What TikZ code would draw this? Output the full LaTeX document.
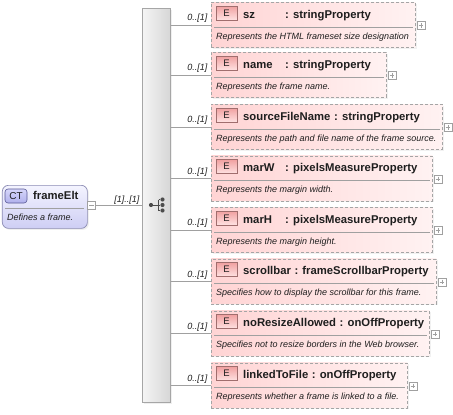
\documentclass[tikz,border=0pt]{standalone}
\usepackage{fontspec}
\setmainfont{Liberation Sans}
\usetikzlibrary{shadows,calc}
\definecolor{pinkL}{RGB}{255,212,212}
\definecolor{pinkR}{RGB}{255,242,242}
\definecolor{ebadgeA}{RGB}{240,160,160}
\definecolor{ebadgeB}{RGB}{255,226,226}
\definecolor{ebadgeD}{RGB}{160,110,110}
\definecolor{ctA}{RGB}{244,244,255}
\definecolor{ctB}{RGB}{206,206,244}
\definecolor{ctD}{RGB}{140,140,180}
\definecolor{ctbA}{RGB}{214,214,250}
\definecolor{ctbB}{RGB}{176,176,236}
\definecolor{ctbD}{RGB}{90,90,150}
\definecolor{lineC}{RGB}{160,160,160}
\definecolor{dashC}{RGB}{165,165,165}
\definecolor{txt}{RGB}{30,30,30}
\tikzset{
  elem/.style={draw=dashC, dash pattern=on 3pt off 2pt, left color=pinkL, right color=pinkR,
    anchor=north west, inner sep=0pt, minimum height=45pt, line width=0.8pt,
    drop shadow={shadow xshift=1.2pt, shadow yshift=-1.2pt, fill=black!10}},
  ebadge/.style={draw=ebadgeD, top color=ebadgeA, bottom color=ebadgeB, minimum width=21pt,
    minimum height=14pt, inner sep=0pt, font=\fontsize{9.5}{10}\selectfont, text=txt, line width=0.6pt},
  etitle/.style={inner sep=0pt, font=\fontsize{11.3}{12}\selectfont\bfseries, text=txt},
  edesc/.style={inner sep=0pt, font=\fontsize{9}{10}\selectfont\itshape, text=txt},
  card/.style={inner sep=0pt, font=\fontsize{9}{10}\selectfont\itshape, text=txt},
  sepline/.style={draw=lineC, line width=0.6pt},
  conn/.style={draw=lineC, line width=0.7pt},
  pm/.style={draw=lineC, fill=white, minimum width=8pt, minimum height=8pt, inner sep=0pt, line width=0.5pt},
  pmsign/.style={draw=lineC, line width=0.6pt},
  seqdot/.style={circle, fill=black!70, inner sep=0pt, minimum size=4.2pt},
}
\newcommand\elemE[7]{%
  \node[elem, minimum width={#3-211}] (#1) at (211,#2) {};
  \node[ebadge] (#1b) at (226.5,#2+11) {E};
  \node[etitle, anchor=base west] (#1n) at (243,#2+16.3) {#4};
  \path let \p1=(#1n.base east) in node[etitle, anchor=base west] (#1t) at ({max(#5pt,\x1+3.2pt)},\y1) {: #6};
  \draw[sepline] ($(#1.north west)+(3,25)$) -- ($(#1.north east)+(-3,25)$);
  \node[edesc, anchor=base west] (#1d) at (216,#2+37.3) {#7};
  \node[pm] (#1p) at (#3+6,#2+23.5) {};
  \draw[pmsign] ($(#1p.west)+(1.8,0)$) -- ($(#1p.east)+(-1.8,0)$);
  \draw[pmsign] ($(#1p.north)+(0,1.8)$) -- ($(#1p.south)+(0,-1.8)$);
  \coordinate (#1s) at (bar.east |- #1.west);
  \draw[conn] (#1s) -- (#1.west);
  \node[card, anchor=base east] (#1c) at (207.5,#2+18.5) {0..[1]};
}
\begin{document}
\begin{tikzpicture}[x=1pt,y=-1pt]
\useasboundingbox (0,0) rectangle (453,415);
\fill[white] (0,0) rectangle (453,415);
% complex type
\node[draw=ctD, rounded corners=6pt, top color=ctA, bottom color=ctB, anchor=north west,
  minimum width=85pt, minimum height=43pt, inner sep=0pt, line width=0.7pt,
  drop shadow={shadow xshift=1.5pt, shadow yshift=-1.5pt, fill=black!12}] (ct) at (2,185) {};
\node[draw=ctbD, rounded corners=3pt, top color=ctbA, bottom color=ctbB, minimum width=22pt,
  minimum height=14pt, inner sep=0pt, font=\fontsize{10}{11}\selectfont, text=txt, line width=0.6pt] (ctb) at (16,196) {CT};
\node[etitle, anchor=base west] (ctn) at (33,199.8) {frameElt};
\draw[sepline] (5,208) -- (84,208);
\node[edesc, anchor=base west] (ctd) at (7,220.5) {Defines a frame.};
\node[pm] (mb) at (91.5,205) {};
\draw[pmsign] ($(mb.west)+(1.8,0)$) -- ($(mb.east)+(-1.8,0)$);
% sequence bar
\node[draw=black!35, left color=black!4, right color=black!16, anchor=north west,
  minimum width=28pt, minimum height=394pt, inner sep=0pt, line width=0.7pt,
  drop shadow={shadow xshift=2pt, shadow yshift=-2pt, fill=black!12}] (bar) at (142,8) {};
\coordinate (bin) at (bar.west |- mb.east);
\draw[conn] (mb.east) -- (bin);
\node[card, anchor=base east] (mc) at (139.5,202) {[1]..[1]};
% sequence icon
\node[seqdot] (sq0) at (151,205) {};
\node[seqdot] (sq1) at (162.5,199.5) {};
\node[seqdot] (sq2) at (162.5,205) {};
\node[seqdot] (sq3) at (162.5,210.5) {};
\draw[black!70, line width=0.8pt] (sq0) -- (sq2);
\draw[black!70, line width=0.8pt] (158.5,199.5) -- (158.5,210.5);
\draw[black!70, line width=0.8pt] (158.5,199.5) -- (sq1);
\draw[black!70, line width=0.8pt] (158.5,210.5) -- (sq3);
% elements
\elemE{e1}{2}{415}{sz}{285}{stringProperty}{Represents the HTML frameset size designation}
\elemE{e2}{52}{386}{name}{285}{stringProperty}{Represents the frame name.}
\elemE{e3}{104}{442}{sourceFileName}{285}{stringProperty}{Represents the path and file name of the frame source.}
\elemE{e4}{155.5}{432}{marW}{285}{pixelsMeasureProperty}{Represents the margin width.}
\elemE{e5}{207}{432}{marH}{285}{pixelsMeasureProperty}{Represents the margin height.}
\elemE{e6}{258.5}{436}{scrollbar}{285}{frameScrollbarProperty}{Specifies how to display the scrollbar for this frame.}
\elemE{e7}{310.5}{429}{noResizeAllowed}{285}{onOffProperty}{Specifies not to resize borders in the Web browser.}
\elemE{e8}{362.5}{407}{linkedToFile}{285}{onOffProperty}{Represents whether a frame is linked to a file.}
\end{tikzpicture}
\end{document}
